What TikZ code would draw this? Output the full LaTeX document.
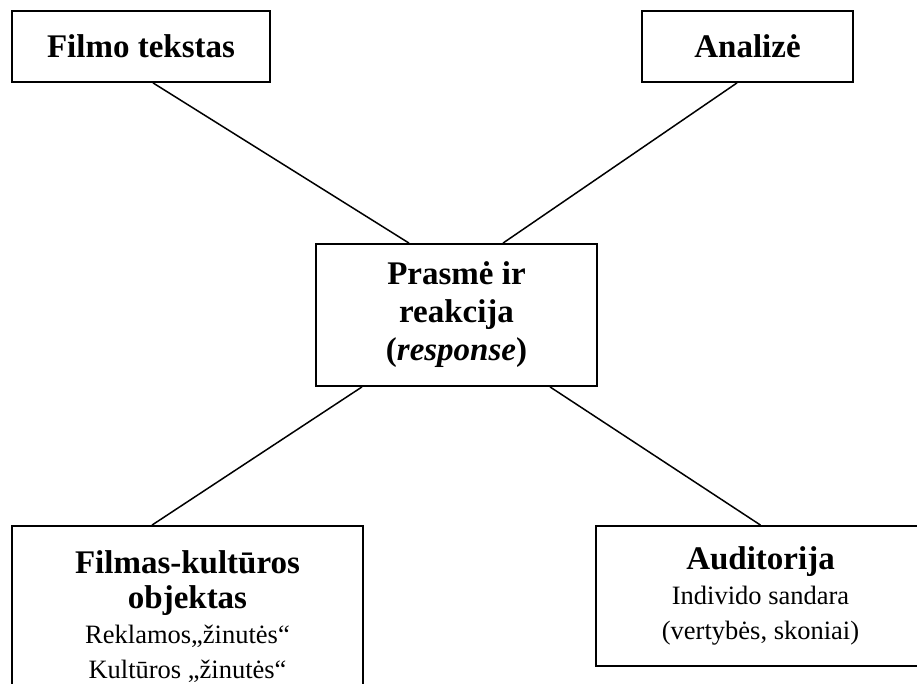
\documentclass[tikz,border=0pt]{standalone}
\usepackage{fontspec}
\setmainfont{Liberation Serif}
\usetikzlibrary{positioning}

\begin{document}
\begin{tikzpicture}[
    x=1pt, y=-1pt,
    bx/.style={draw, line width=1.8pt, fill=white, align=center, inner sep=0pt,
      font=\fontsize{26.5}{35}\selectfont},
    ln/.style={line width=1.5pt}
]
\def\hd#1{{\fontsize{33}{35}\selectfont\bfseries #1}}
\useasboundingbox (0,0) rectangle (917,684);
\node[bx, minimum width=258pt, minimum height=71pt] (ft) at (141,46.5) {\hd{Filmo tekstas}};
\node[bx, minimum width=211pt, minimum height=71pt] (an) at (747.5,46.5) {\hd{Analizė}};
\node[bx, minimum width=281pt, minimum height=142pt, font=\fontsize{33}{38}\selectfont\bfseries] (pr) at (456.5,315)
  {Prasmė ir\\ reakcija\\ (\textit{response})};
\node[bx, minimum width=351pt, minimum height=182pt] (fk) at (187.5,617)
  {\hd{Filmas-kultūros}\\ \hd{objektas}\\ Reklamos„žinutės“\\ Kultūros „žinutės“};
\node[bx, minimum width=329pt, minimum height=140pt] (au) at (760.5,596)
  {\hd{Auditorija}\\ Individo sandara\\ (vertybės, skoniai)};
\draw[ln] ([xshift=12pt]ft.south) -- ([xshift=-47.5pt]pr.north);
\draw[ln] ([xshift=-10.5pt]an.south) -- ([xshift=46.5pt]pr.north);
\draw[ln] ([xshift=-94.5pt]pr.south) -- ([xshift=-35.5pt]fk.north);
\draw[ln] ([xshift=93.5pt]pr.south) -- (au.north);
\end{tikzpicture}
\end{document}
